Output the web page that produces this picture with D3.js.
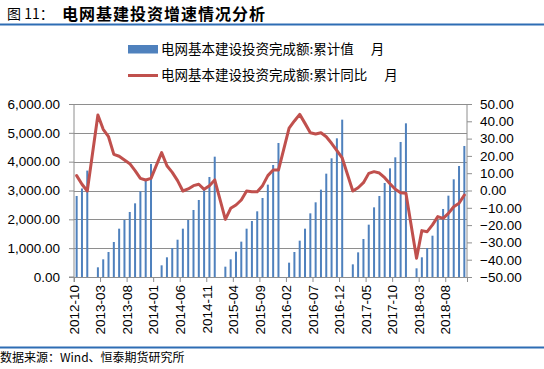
<!DOCTYPE html>
<html><head><meta charset="utf-8">
<script src="https://cdn.jsdelivr.net/npm/d3@7"></script>
<style>
html,body{margin:0;padding:0;background:#fff;}
svg{display:block;}
</style></head>
<body>
<svg id="c" width="544" height="369"></svg>
<script>
const months = [
 "2012-10","2012-11","2012-12",
 "2013-01","2013-02","2013-03","2013-04","2013-05","2013-06","2013-07","2013-08","2013-09","2013-10","2013-11","2013-12",
 "2014-01","2014-02","2014-03","2014-04","2014-05","2014-06","2014-07","2014-08","2014-09","2014-10","2014-11","2014-12",
 "2015-01","2015-02","2015-03","2015-04","2015-05","2015-06","2015-07","2015-08","2015-09","2015-10","2015-11","2015-12",
 "2016-01","2016-02","2016-03","2016-04","2016-05","2016-06","2016-07","2016-08","2016-09","2016-10","2016-11","2016-12",
 "2017-01","2017-02","2017-03","2017-04","2017-05","2017-06","2017-07","2017-08","2017-09","2017-10","2017-11","2017-12",
 "2018-01","2018-02","2018-03","2018-04","2018-05","2018-06","2018-07","2018-08","2018-09","2018-10","2018-11"
];
const cumValue = [
 2810,3070,3690,
 null,336,613,867,1214,1676,1977,2255,2555,2972,3388,3920,
 null,405,683,1006,1294,1676,1977,2324,2671,3018,3469,4173,
 null,358,613,879,1226,1676,1942,2278,2740,3203,3885,4648,
 null,497,867,1260,1676,2208,2590,3029,3584,4116,4810,5457,
 null,439,855,1318,1815,2416,2810,3261,3769,4151,4683,5330,
 null,301,683,1006,1433,1977,2359,2821,3388,3850,4544
];
const cumYoY = [
 8.6,3.6,-0.3,
 null,43.6,35.4,31.1,20.9,19.8,17.6,15.5,11.5,7.0,6.1,7.0,
 null,21.9,14.3,10.5,5.7,-0.3,0.9,2.8,3.6,0.7,2.8,6.1,
 null,-16.7,-10.3,-8.4,-5.5,-0.3,-0.7,-0.7,2.8,8.6,11.8,11.8,
 null,36.0,40.2,44.0,38.8,33.4,32.7,33.4,31.1,27.3,23.0,18.8,
 null,-0.3,1.6,4.5,9.9,10.9,10.1,7.4,3.9,0.7,-1.3,-1.6,
 null,-39.2,-23.2,-23.8,-19.9,-15.1,-16.1,-13.2,-9.4,-7.4,-2.6
];
const xTickLabels = ["2012-10","2013-03","2013-08","2014-01","2014-06","2014-11","2015-04","2015-09","2016-02","2016-07","2016-12","2017-05","2017-10","2018-03","2018-08"];
const leftTicks = [0,1000,2000,3000,4000,5000,6000];
const rightTicks = [-50,-40,-30,-20,-10,0,10,20,30,40,50];
const seriesNames = ["电网基本建设投资完成额:累计值","电网基本建设投资完成额:累计同比"];
const titlePrefix = "图 11：";
const titleText = "电网基建投资增速情况分析";
const sourceText = "数据来源：Wind、恒泰期货研究所";

const svg = d3.select("#c");
const L = 74, R = 467, T = 104, B = 277;
const blue = "#4F81BD", red = "#C0504D", rule = "#2E6DB4", grid = "#8E8E8E";
const numFont = "'Liberation Sans', Arial, sans-serif";
const cjkFont = "'Noto Sans CJK SC', sans-serif";

const x = d3.scaleBand().domain(months).range([L, R]).padding(0);
const yL = d3.scaleLinear().domain([0, 6000]).range([B, T]);
const yR = d3.scaleLinear().domain([-50, 50]).range([B, T]);

// title
svg.append("text").attr("x", 7).attr("y", 13).attr("dominant-baseline", "central")
  .style("font-family", cjkFont).style("font-size", "14px").attr("fill", "#000").text(titlePrefix);
svg.append("text").attr("x", 62).attr("y", 13).attr("dominant-baseline", "central")
  .style("font-family", cjkFont).style("font-size", "16px").style("font-weight", "bold")
  .style("letter-spacing", "1px").attr("fill", "#000").text(titleText);
svg.append("rect").attr("x", 0).attr("y", 23.5).attr("width", 544).attr("height", 2).attr("fill", rule);

// gridlines
svg.append("g").selectAll("line").data(leftTicks).join("line")
  .attr("x1", L).attr("x2", R).attr("y1", d => Math.round(yL(d)) + 0.5).attr("y2", d => Math.round(yL(d)) + 0.5)
  .attr("stroke", grid).attr("stroke-width", 1);

// bars
const bw = 2;
svg.append("g").selectAll("rect").data(months.map((m, i) => ({m, v: cumValue[i]})).filter(d => d.v != null)).join("rect")
  .attr("x", d => x(d.m) + x.bandwidth() / 2 - bw / 2)
  .attr("width", bw)
  .attr("y", d => yL(d.v))
  .attr("height", d => yL(0) - yL(d.v))
  .attr("fill", blue);

// axes
const axL = svg.append("g").attr("transform", `translate(${L},0)`)
  .call(d3.axisLeft(yL).tickValues(leftTicks).tickSize(5).tickPadding(9).tickFormat(d3.format(",.2f")));
const axR = svg.append("g").attr("transform", `translate(${R},0)`)
  .call(d3.axisRight(yR).tickValues(rightTicks).tickSize(5).tickPadding(8).tickFormat(d3.format(".2f")));
const axB = svg.append("g").attr("transform", `translate(0,${B})`)
  .call(d3.axisBottom(x).tickValues(xTickLabels).tickSize(5).tickPadding(0));
axB.selectAll(".tick").attr("transform", d => `translate(${x(d)},0)`);
axB.selectAll(".tick text").attr("transform", "rotate(-90)").attr("x", -8).attr("y", 0)
  .attr("dy", "0.35em").attr("text-anchor", "end");
[axL, axR, axB].forEach(a => {
  a.selectAll("path,line").attr("stroke", grid).attr("stroke-width", 1);
  a.selectAll("text").attr("fill", "#000").style("font-family", numFont).style("font-size", "13.5px");
});
axL.select(".domain").attr("d", `M-5,${B}H0V${T}`);
axR.select(".domain").attr("d", `M0,${T}V${B}`);

// line
const pts = months.map((m, i) => ({m, v: cumYoY[i]})).filter(d => d.v != null);
svg.append("path").datum(pts)
  .attr("d", d3.line().x(d => x(d.m) + x.bandwidth() / 2).y(d => yR(d.v)))
  .attr("fill", "none").attr("stroke", red).attr("stroke-width", 3)
  .attr("stroke-linejoin", "round").attr("stroke-linecap", "round");

// legend
const lg = svg.append("g");
lg.append("rect").attr("x", 128).attr("y", 45).attr("width", 30).attr("height", 8.5).attr("fill", blue);
lg.append("line").attr("x1", 128).attr("x2", 158).attr("y1", 75.5).attr("y2", 75.5)
  .attr("stroke", red).attr("stroke-width", 3);
const lt1 = lg.append("text").attr("x", 161).attr("y", 47.5).attr("dominant-baseline", "central")
  .style("font-family", cjkFont).style("font-size", "13.5px").attr("fill", "#000").text(seriesNames[0]);
lt1.append("tspan").attr("dx", 17).text("月");
const lt2 = lg.append("text").attr("x", 161).attr("y", 73.5).attr("dominant-baseline", "central")
  .style("font-family", cjkFont).style("font-size", "13.5px").attr("fill", "#000").text(seriesNames[1]);
lt2.append("tspan").attr("dx", 17).text("月");

// footer
svg.append("rect").attr("x", 0).attr("y", 346.5).attr("width", 544).attr("height", 2).attr("fill", rule);
svg.append("text").attr("x", 0).attr("y", 356.5).attr("dominant-baseline", "central")
  .style("font-family", cjkFont).style("font-size", "12px").attr("fill", "#000").text(sourceText);
</script>
</body></html>
